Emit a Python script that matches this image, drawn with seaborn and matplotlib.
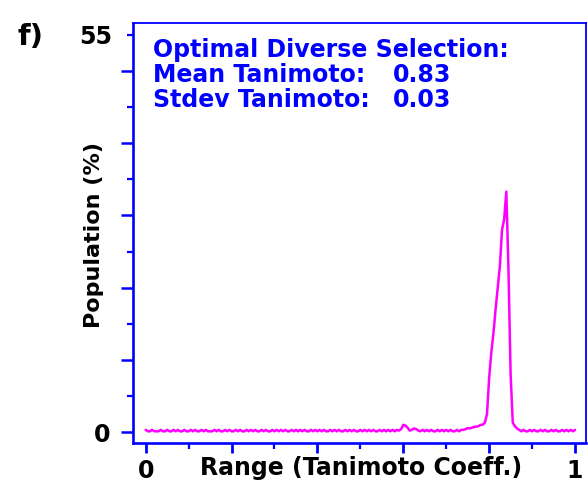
import numpy as np
import pandas as pd
import matplotlib
matplotlib.use("Agg")
import matplotlib.pyplot as plt
from matplotlib.ticker import FixedLocator, FixedFormatter
import seaborn as sns

# ---- data ----
tanimoto = np.linspace(0.0, 1.0, 201)   # bin centres, step 0.005
population = [
    # 0.000 - 0.095
    0.3, 0.1, 0.1, 0.3, 0.1, 0.1, 0.1, 0.3, 0.1, 0.1, 0.3, 0.1, 0.1, 0.3, 0.1, 0.3, 0.1, 0.1, 0.3, 0.1,
    # 0.100 - 0.195
    0.1, 0.3, 0.1, 0.3, 0.1, 0.1, 0.3, 0.1, 0.3, 0.1, 0.1, 0.1, 0.3, 0.1, 0.3, 0.1, 0.1, 0.3, 0.1, 0.3,
    # 0.200 - 0.295
    0.1, 0.1, 0.3, 0.1, 0.3, 0.1, 0.1, 0.3, 0.1, 0.3, 0.1, 0.3, 0.1, 0.1, 0.3, 0.1, 0.3, 0.1, 0.1, 0.3,
    # 0.300 - 0.395
    0.1, 0.3, 0.1, 0.3, 0.1, 0.3, 0.1, 0.1, 0.3, 0.1, 0.3, 0.1, 0.3, 0.1, 0.3, 0.1, 0.1, 0.3, 0.1, 0.3,
    # 0.400 - 0.495
    0.1, 0.3, 0.1, 0.3, 0.1, 0.1, 0.3, 0.1, 0.3, 0.1, 0.3, 0.1, 0.1, 0.3, 0.1, 0.3, 0.1, 0.3, 0.1, 0.1,
    # 0.500 - 0.595
    0.3, 0.1, 0.3, 0.1, 0.3, 0.1, 0.3, 0.1, 0.1, 0.3, 0.1, 0.3, 0.1, 0.3, 0.1, 0.3, 0.1, 0.3, 0.2, 0.4,
    # 0.600 - 0.695
    1.0, 0.9, 0.6, 0.2, 0.3, 0.5, 0.4, 0.2, 0.1, 0.3, 0.1, 0.3, 0.1, 0.3, 0.1, 0.1, 0.3, 0.1, 0.3, 0.1,
    # 0.700 - 0.795
    0.3, 0.1, 0.3, 0.1, 0.1, 0.3, 0.1, 0.3, 0.3, 0.4, 0.55, 0.5, 0.6, 0.7, 0.75, 0.8, 1.0, 1.0, 1.3, 2.5,
    # 0.800 - 0.895
    7.5, 11.0, 13.7, 17.0, 20.0, 23.0, 28.0, 29.5, 33.3, 22.5, 8.0, 1.3, 0.8, 0.5, 0.3, 0.1, 0.3, 0.1, 0.1, 0.3,
    # 0.900 - 0.995
    0.1, 0.3, 0.1, 0.1, 0.3, 0.1, 0.3, 0.1, 0.1, 0.3, 0.1, 0.3, 0.1, 0.1, 0.3, 0.1, 0.3, 0.1, 0.3, 0.1,
    # 1.000
    0.3,
]
x_major = [0.0, 0.2, 0.4, 0.6, 0.8, 1.0]
x_major_labels = ["0", "", "", "", "", "1"]
x_minor = [0.1, 0.3, 0.5, 0.7, 0.9]
y_major = [0, 10, 20, 30, 40, 50]
y_major_labels = ["0", "", "", "", "", ""]
y_minor = [5, 15, 25, 35, 45, 55]
y_minor_labels = ["", "", "", "", "", "55"]
legend_lines = ["Optimal Diverse Selection:", "Mean Tanimoto:", "Stdev Tanimoto:"]
legend_values = ["", "0.83", "0.03"]

df = pd.DataFrame({"x": tanimoto, "y": population})

sns.set_theme(style="white")
plt.rcParams["font.family"] = ["DejaVu Sans"]
plt.rcParams["font.weight"] = "bold"

W, H = 588, 487
fig = plt.figure(figsize=(W / 100, H / 100), dpi=100)
ax_l, ax_r, ax_t, ax_b = 133, 586, 23, 443
ax = fig.add_axes([ax_l / W, 1 - ax_b / H, (ax_r - ax_l) / W, (ax_b - ax_t) / H])

BLUE = "#0000FF"
MAG = "#FF00FF"

sns.lineplot(data=df, x="x", y="y", ax=ax, color=MAG, linewidth=1.8, legend=False)

# scale so that 0 -> px 146 and 1 -> px 575; 0 -> px 432, 55 -> px 35
ax.set_xlim(-0.0296, 1.0256)
ax.set_ylim(-1.52, 56.66)

for side, sp in ax.spines.items():
    sp.set_visible(True)
    sp.set_color(BLUE)
    sp.set_linewidth(1.9 if side in ("left", "bottom") else 1.3)

ax.xaxis.set_major_locator(FixedLocator(x_major))
ax.xaxis.set_major_formatter(FixedFormatter(x_major_labels))
ax.xaxis.set_minor_locator(FixedLocator(x_minor))
ax.yaxis.set_major_locator(FixedLocator(y_major))
ax.yaxis.set_major_formatter(FixedFormatter(y_major_labels))
ax.yaxis.set_minor_locator(FixedLocator(y_minor))
ax.yaxis.set_minor_formatter(FixedFormatter(y_minor_labels))

ax.tick_params(axis="x", which="major", direction="out", length=7.2, width=2.0, bottom=True,
               color=BLUE, labelsize=17, labelcolor="black", pad=4)
ax.tick_params(axis="x", which="minor", direction="out", length=4.0, width=1.6,
               color=BLUE, bottom=True)
ax.tick_params(axis="y", which="major", direction="out", length=8.3, width=1.8, left=True,
               color=BLUE, labelsize=17, labelcolor="black", pad=8)
ax.tick_params(axis="y", which="minor", direction="out", length=4.0, width=1.6,
               color=BLUE, left=True, labelsize=17, labelcolor="black", pad=11)
for axis in (ax.xaxis, ax.yaxis):
    for t in axis.get_major_ticks() + axis.get_minor_ticks():
        t.tick1line.set_color(BLUE)
        t.tick1line.set_markeredgecolor(BLUE)
for lab in ax.get_xticklabels() + ax.get_yticklabels() + ax.get_yticklabels(minor=True):
    lab.set_fontweight("bold")

ax.set_xlabel("Range (Tanimoto Coeff.)", fontsize=17, fontweight="bold", color="black")
ax.xaxis.set_label_coords((361 - ax_l) / (ax_r - ax_l), (ax_b - 456) / (ax_b - ax_t))
ax.set_ylabel("Population (%)", fontsize=16, fontweight="bold", color="black")
ax.yaxis.set_label_coords((104 - ax_l) / (ax_r - ax_l), (ax_b - 235) / (ax_b - ax_t))

baselines = [57, 81.7, 107]
for txt, val, by in zip(legend_lines, legend_values, baselines):
    yy = (ax_b - by) / (ax_b - ax_t)
    ax.text((153 - ax_l) / (ax_r - ax_l), yy, txt, transform=ax.transAxes,
            fontsize=17, fontweight="bold", color=BLUE, ha="left", va="baseline")
    if val:
        ax.text((393 - ax_l) / (ax_r - ax_l), yy, val, transform=ax.transAxes,
                fontsize=17, fontweight="bold", color=BLUE, ha="left", va="baseline")

fig.text(30 / W, 1 - 37 / H, "f)", fontsize=21, fontweight="bold", color="black",
         ha="center", va="center")

fig.savefig("out.png", dpi=100, facecolor="white")
